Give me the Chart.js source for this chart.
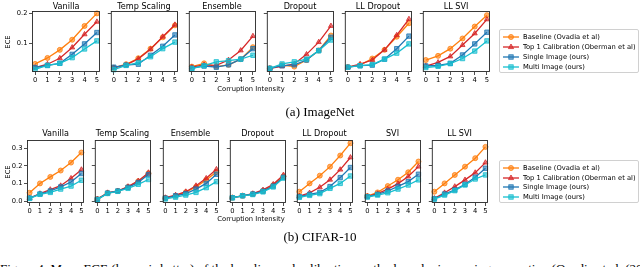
<!DOCTYPE html>
<html><head><meta charset="utf-8">
<script src="https://cdn.jsdelivr.net/npm/chart.js@4.4.0/dist/chart.umd.min.js"></script>
<style>
html,body{margin:0;padding:0;background:#fff;}
body{width:640px;height:267px;overflow:hidden;position:relative;}
.t{position:absolute;font-family:'DejaVu Sans',sans-serif;color:#000;white-space:nowrap;line-height:1;transform:translate(-50%,-50%);}
.serif{font-family:'Liberation Serif','Times New Roman',serif;}
canvas{position:absolute;}
.legend{position:absolute;border:1px solid #d0d0d0;border-radius:2px;background:#fff;box-sizing:border-box;}
.legend svg{position:absolute;left:0;top:0;}
</style></head><body>
<script>
// ---------------- data ----------------
const intensities = [0, 1, 2, 3, 4, 5];
const xTickValues = [0, 1, 2, 3, 4, 5];
const imagenetYTicks = [0.1, 0.2];
const cifarYTicks = [0.0, 0.1, 0.2, 0.3];
const seriesLabels = ['Baseline (Ovadia et al)', 'Top 1 Calibration (Oberman et al)', 'Single Image (ours)', 'Multi Image (ours)'];

const imagenetMethods = ['Vanilla', 'Temp Scaling', 'Ensemble', 'Dropout', 'LL Dropout', 'LL SVI'];
const cifarMethods = ['Vanilla', 'Temp Scaling', 'Ensemble', 'Dropout', 'LL Dropout', 'SVI', 'LL SVI'];

// ImageNet, one row per method (same order as imagenetMethods)
const imagenetBaseline = [
  [0.031, 0.051, 0.078, 0.112, 0.158, 0.200],
  [0.018, 0.030, 0.050, 0.082, 0.120, 0.160],
  [0.022, 0.033, 0.022, 0.028, 0.047, 0.087],
  [0.016, 0.027, 0.022, 0.044, 0.076, 0.126],
  [0.020, 0.027, 0.049, 0.078, 0.122, 0.167],
  [0.044, 0.058, 0.082, 0.116, 0.156, 0.194]
];
const imagenetTop1 = [
  [0.019, 0.030, 0.050, 0.086, 0.130, 0.172],
  [0.018, 0.028, 0.048, 0.080, 0.122, 0.162],
  [0.020, 0.028, 0.026, 0.044, 0.076, 0.124],
  [0.016, 0.023, 0.031, 0.063, 0.104, 0.158],
  [0.020, 0.030, 0.044, 0.078, 0.127, 0.181],
  [0.024, 0.036, 0.056, 0.094, 0.133, 0.180]
];
const imagenetSingle = [
  [0.019, 0.026, 0.033, 0.063, 0.098, 0.136],
  [0.020, 0.027, 0.030, 0.060, 0.090, 0.128],
  [0.017, 0.024, 0.020, 0.028, 0.047, 0.082],
  [0.016, 0.025, 0.028, 0.044, 0.076, 0.120],
  [0.020, 0.025, 0.027, 0.047, 0.082, 0.124],
  [0.024, 0.026, 0.033, 0.061, 0.098, 0.137]
];
const imagenetMulti = [
  [0.013, 0.026, 0.033, 0.052, 0.081, 0.108],
  [0.012, 0.026, 0.035, 0.055, 0.082, 0.104],
  [0.015, 0.025, 0.038, 0.042, 0.047, 0.060],
  [0.016, 0.031, 0.038, 0.047, 0.075, 0.111],
  [0.020, 0.025, 0.029, 0.047, 0.067, 0.098],
  [0.019, 0.023, 0.032, 0.049, 0.074, 0.108]
];

// CIFAR-10, one row per method (same order as cifarMethods)
const cifarBaseline = [
  [0.047, 0.100, 0.137, 0.173, 0.218, 0.275],
  [0.011, 0.045, 0.057, 0.080, 0.112, 0.157],
  [0.018, 0.030, 0.050, 0.080, 0.120, 0.165],
  [0.019, 0.030, 0.040, 0.058, 0.090, 0.140],
  [0.053, 0.100, 0.144, 0.195, 0.258, 0.328],
  [0.028, 0.049, 0.085, 0.121, 0.163, 0.224],
  [0.053, 0.100, 0.148, 0.195, 0.243, 0.307]
];
const cifarTop1 = [
  [0.017, 0.042, 0.065, 0.087, 0.129, 0.178],
  [0.011, 0.047, 0.057, 0.082, 0.114, 0.161],
  [0.019, 0.034, 0.053, 0.087, 0.129, 0.180],
  [0.019, 0.030, 0.042, 0.063, 0.095, 0.148],
  [0.028, 0.046, 0.078, 0.121, 0.178, 0.247],
  [0.027, 0.042, 0.068, 0.099, 0.139, 0.195],
  [0.015, 0.047, 0.082, 0.120, 0.161, 0.218]
];
const cifarSingle = [
  [0.017, 0.040, 0.057, 0.080, 0.108, 0.156],
  [0.010, 0.045, 0.057, 0.078, 0.105, 0.150],
  [0.017, 0.030, 0.042, 0.068, 0.100, 0.152],
  [0.019, 0.030, 0.040, 0.056, 0.085, 0.135],
  [0.025, 0.038, 0.049, 0.082, 0.133, 0.190],
  [0.025, 0.038, 0.057, 0.083, 0.110, 0.152],
  [0.013, 0.040, 0.063, 0.095, 0.135, 0.186]
];
const cifarMulti = [
  [0.015, 0.038, 0.049, 0.068, 0.085, 0.118],
  [0.008, 0.043, 0.055, 0.072, 0.095, 0.122],
  [0.012, 0.022, 0.034, 0.049, 0.076, 0.110],
  [0.018, 0.030, 0.037, 0.052, 0.080, 0.130],
  [0.021, 0.032, 0.042, 0.072, 0.100, 0.142],
  [0.023, 0.034, 0.047, 0.068, 0.091, 0.120],
  [0.011, 0.034, 0.059, 0.091, 0.125, 0.148]
];

// ---------------- styles / layout ----------------
const seriesStyle = [
  {color: '#ff7f0e', fill: 'rgba(255,127,14,0.6)', point: 'circle', r: 2.5},
  {color: '#d62728', fill: 'rgba(214,39,40,0.6)', point: 'triangle', r: 2.9},
  {color: '#1f77b4', fill: 'rgba(31,119,180,0.6)', point: 'rect', r: 3.1},
  {color: '#17becf', fill: 'rgba(23,190,207,0.6)', point: 'rect', r: 3.1}
];
const FONT = "'DejaVu Sans', sans-serif";
const TICK_SIZE = 6.75;

const framePlugin = {
  id: 'frame',
  afterDraw(chart) {
    const {ctx, chartArea: a} = chart;
    ctx.save();
    ctx.strokeStyle = '#262626';
    ctx.lineWidth = 0.9;
    ctx.strokeRect(a.left + 0.5, a.top + 0.5, a.width - 1, a.height - 1);
    ctx.restore();
  }
};

function addText(txt, x, y, size, extra) {
  const d = document.createElement('div');
  d.className = 't' + (extra && extra.cls ? ' ' + extra.cls : '');
  d.textContent = txt;
  d.style.left = x + 'px';
  d.style.top = y + 'px';
  d.style.fontSize = size + 'px';
  if (extra && extra.rotate) d.style.transform = 'translate(-50%,-50%) rotate(-90deg)';
  document.body.appendChild(d);
}

function makePanel(p) {
  const yW = p.showY ? 24 : 4;
  const padT = 8, padR = 8, xH = 14;
  const W = p.w + yW + padR, H = p.h + padT + xH;
  const cv = document.createElement('canvas');
  cv.width = W; cv.height = H;
  cv.style.left = (p.left - yW) + 'px';
  cv.style.top = (p.top - padT) + 'px';
  cv.style.width = W + 'px';
  cv.style.height = H + 'px';
  document.body.appendChild(cv);
  const gridOpts = {drawOnChartArea: false, drawTicks: true, tickLength: 3, color: '#222', lineWidth: 0.8};
  new Chart(cv, {
    type: 'line',
    data: {
      datasets: p.series.map((vals, k) => ({
        label: seriesLabels[k],
        data: intensities.map((x, i) => ({x: x, y: vals[i]})),
        borderColor: seriesStyle[k].color,
        backgroundColor: seriesStyle[k].fill,
        pointBackgroundColor: seriesStyle[k].fill,
        pointBorderColor: seriesStyle[k].color,
        pointStyle: seriesStyle[k].point,
        pointRadius: seriesStyle[k].r,
        pointBorderWidth: 0.8,
        borderWidth: 1.3,
        tension: 0,
        fill: false,
        order: 4 - k,
        clip: false
      }))
    },
    options: {
      responsive: false, maintainAspectRatio: false, animation: false, devicePixelRatio: 1,
      layout: {padding: {left: 0, top: padT, right: padR, bottom: 0}},
      plugins: {legend: {display: false}, tooltip: {enabled: false}, title: {display: false}},
      scales: {
        x: {
          type: 'linear', min: -0.25, max: 5.25,
          afterBuildTicks: s => { s.ticks = xTickValues.map(v => ({value: v})); },
          afterFit: s => { s.height = xH; },
          grid: gridOpts, border: {display: false},
          ticks: {font: {family: FONT, size: TICK_SIZE}, color: '#000', padding: 1.5, maxRotation: 0, minRotation: 0, autoSkip: false,
                  callback: v => String(v)}
        },
        y: {
          type: 'linear', min: p.yMin, max: p.yMax,
          afterBuildTicks: s => { s.ticks = p.yTicks.map(v => ({value: v})); },
          afterFit: s => { s.width = yW; },
          grid: gridOpts, border: {display: false},
          ticks: {font: {family: FONT, size: TICK_SIZE}, color: '#000', padding: 1.5, autoSkip: false,
                  callback: v => p.showY ? Number(v).toFixed(1) : ''}
        }
      }
    },
    plugins: [framePlugin]
  });
}

function makeLegend(left, top, width, height, rowYs) {
  const box = document.createElement('div');
  box.className = 'legend';
  box.style.left = left + 'px'; box.style.top = top + 'px';
  box.style.width = width + 'px'; box.style.height = height + 'px';
  const ns = 'http://www.w3.org/2000/svg';
  const svg = document.createElementNS(ns, 'svg');
  svg.setAttribute('width', width); svg.setAttribute('height', height);
  seriesLabels.forEach((lab, k) => {
    const y = rowYs[k] - top;
    const st = seriesStyle[k];
    const line = document.createElementNS(ns, 'line');
    line.setAttribute('x1', 3); line.setAttribute('x2', 19);
    line.setAttribute('y1', y); line.setAttribute('y2', y);
    line.setAttribute('stroke', st.color); line.setAttribute('stroke-width', 1.3);
    svg.appendChild(line);
    let m;
    if (st.point === 'circle') {
      m = document.createElementNS(ns, 'circle');
      m.setAttribute('cx', 11); m.setAttribute('cy', y); m.setAttribute('r', 2.5);
    } else if (st.point === 'triangle') {
      m = document.createElementNS(ns, 'polygon');
      m.setAttribute('points', `11,${y - 3} ${13.6},${y + 1.6} ${8.4},${y + 1.6}`);
    } else {
      m = document.createElementNS(ns, 'rect');
      m.setAttribute('x', 8.8); m.setAttribute('y', y - 2.2); m.setAttribute('width', 4.4); m.setAttribute('height', 4.4);
    }
    m.setAttribute('fill', st.fill); m.setAttribute('stroke', st.color); m.setAttribute('stroke-width', 0.8);
    svg.appendChild(m);
    const t = document.createElement('div');
    t.style.position = 'absolute';
    t.style.left = '23px';
    t.style.top = (y - 4) + 'px';
    t.style.fontFamily = FONT;
    t.style.fontSize = TICK_SIZE + 'px';
    t.style.lineHeight = '8px';
    t.style.whiteSpace = 'nowrap';
    t.textContent = lab;
    box.appendChild(t);
  });
  box.insertBefore(svg, box.firstChild);
  document.body.appendChild(box);
}

// ---------------- ImageNet row ----------------
const inLefts = [32, 110, 188, 266, 344, 422];
imagenetMethods.forEach((m, i) => {
  makePanel({
    left: inLefts[i], top: 11, w: 68, h: 61, showY: i === 0,
    yMin: 0.004, yMax: 0.208, yTicks: imagenetYTicks,
    series: [imagenetBaseline[i], imagenetTop1[i], imagenetSingle[i], imagenetMulti[i]]
  });
  addText(m, inLefts[i] + 34, 5.5, 8.1);
});
addText('ECE', 8, 42, TICK_SIZE, {rotate: true});
addText('Corruption Intensity', 251, 89, TICK_SIZE);
makeLegend(499, 29, 140, 44, [36, 46, 56, 66]);
addText('(a) ImageNet', 320, 111, 13, {cls: 'serif'});

// ---------------- CIFAR-10 row ----------------
const cfLefts = [27, 94, 162, 229, 296, 364, 431];
cifarMethods.forEach((m, i) => {
  makePanel({
    left: cfLefts[i], top: 140, w: 57, h: 63, showY: i === 0,
    yMin: -0.011, yMax: 0.346, yTicks: cifarYTicks,
    series: [cifarBaseline[i], cifarTop1[i], cifarSingle[i], cifarMulti[i]]
  });
  addText(m, cfLefts[i] + 28.5, 133, 8.1);
});
addText('ECE', 8, 172, TICK_SIZE, {rotate: true});
addText('Corruption Intensity', 251, 219, TICK_SIZE);
makeLegend(499, 160, 140, 43, [167, 177, 186, 196]);
addText('(b) CIFAR-10', 320, 236, 13, {cls: 'serif'});

// partially visible figure caption at the bottom edge
const cap = document.createElement('div');
cap.className = 'serif';
cap.style.cssText = 'position:absolute;left:0;top:262px;font-size:13px;line-height:13px;white-space:nowrap;color:#000;';
cap.textContent = 'Figure 4: Mean ECE (lower is better) of the baseline and calibration methods under increasing corruption (Ovadia et al. (2019)).';
document.body.appendChild(cap);
</script>
</body></html>
